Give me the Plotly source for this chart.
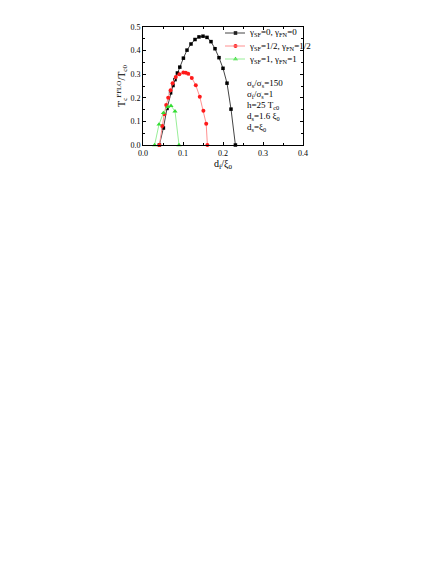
import plotly.graph_objects as go

# Data
black_d = [0.041, 0.051, 0.060, 0.069, 0.075, 0.080, 0.086, 0.092, 0.101, 0.110, 0.120,
           0.130, 0.140, 0.150, 0.160, 0.170, 0.180, 0.190, 0.200, 0.210, 0.220, 0.231]
black_T = [0.0, 0.072, 0.155, 0.221, 0.252, 0.277, 0.305, 0.330, 0.368, 0.402, 0.428,
           0.447, 0.458, 0.461, 0.456, 0.438, 0.408, 0.370, 0.325, 0.262, 0.152, 0.0]

red_d = [0.041, 0.048, 0.053, 0.058, 0.063, 0.069, 0.074, 0.082, 0.091, 0.101, 0.107,
         0.113, 0.122, 0.132, 0.142, 0.151, 0.158, 0.161]
red_T = [0.0, 0.080, 0.130, 0.170, 0.200, 0.232, 0.262, 0.288, 0.300, 0.307, 0.306,
         0.302, 0.284, 0.253, 0.204, 0.145, 0.090, 0.0]

green_d = [0.029, 0.040, 0.051, 0.062, 0.070, 0.080, 0.090]
green_T = [0.0, 0.087, 0.136, 0.162, 0.166, 0.143, 0.0]

x_ticks = [0.0, 0.1, 0.2, 0.3, 0.4]
y_ticks = [0.0, 0.1, 0.2, 0.3, 0.4, 0.5]

names = ["γ<sub>SF</sub>=0, γ<sub>FN</sub>=0",
         "γ<sub>SF</sub>=1/2, γ<sub>FN</sub>=1/2",
         "γ<sub>SF</sub>=1, γ<sub>FN</sub>=1"]

params = ["σ<sub>s</sub>/σ<sub>s</sub>=150",
          "σ<sub>f</sub>/σ<sub>s</sub>=1",
          "h=25 T<sub>c0</sub>",
          "d<sub>s</sub>=1.6 ξ<sub>0</sub>",
          "d<sub>s</sub>=ξ<sub>0</sub>"]

FONT = "Liberation Serif, Times New Roman, serif"

# page geometry (screen pixels); page body has an 8px margin
OFF = 8
L, R, T, B = 143 - OFF, 303 - OFF, 27 - OFF, 145 - OFF
W, H = 440 - 2 * OFF, 570 - 2 * OFF


def px(xs):
    return (xs - OFF - L) / (R - L)


def py(ys):
    return (B - (ys - OFF)) / (B - T)


styles = [
    dict(line=dict(color="#444444", width=1),
         marker=dict(symbol="square", size=3.5, color="black")),
    dict(line=dict(color="#ff9090", width=1),
         marker=dict(symbol="circle", size=4, color="#ff1a1a")),
    dict(line=dict(color="#98ee98", width=1),
         marker=dict(symbol="triangle-up", size=4.5, color="#33dd33")),
]

fig = go.Figure()
for (xd, yd), st, nm in zip([(black_d, black_T), (red_d, red_T), (green_d, green_T)], styles, names):
    fig.add_trace(go.Scatter(x=xd, y=yd, mode="lines+markers", name=nm,
                             showlegend=False, cliponaxis=False, **st))

# manual legend (compact spacing like the reference)
leg_y = [33, 46, 59]
for st, nm, yy in zip(styles, names, leg_y):
    fig.add_shape(type="line", xref="paper", yref="paper",
                  x0=px(225), x1=px(245), y0=py(yy), y1=py(yy),
                  line=dict(color=st["line"]["color"], width=1))
    fig.add_trace(go.Scatter(x=[px(235.5)], y=[py(yy)], xaxis="x2", yaxis="y2",
                             mode="markers", marker=st["marker"], showlegend=False,
                             hoverinfo="skip", cliponaxis=False))
    fig.add_annotation(x=px(247), y=py(yy), xref="paper", yref="paper", text=nm,
                       showarrow=False, xanchor="left", yanchor="middle",
                       font=dict(family=FONT, size=9, color="black"))

for i, t in enumerate(params):
    fig.add_annotation(x=px(245), y=py(83 + i * 11.2), xref="paper", yref="paper", text=t,
                       showarrow=False, xanchor="left", yanchor="middle",
                       font=dict(family=FONT, size=9, color="black"))

axis_common = dict(showline=True, linecolor="black", linewidth=1, mirror="allticks",
                   ticks="inside", ticklen=3, tickcolor="black", tickwidth=1,
                   showgrid=False, zeroline=False,
                   tickfont=dict(family=FONT, size=8, color="black"),
                   minor=dict(ticks="inside", ticklen=2, tickcolor="black", showgrid=False))

fig.update_xaxes(range=[0, 0.4], tickvals=x_ticks, ticktext=[f"{v:.1f}" for v in x_ticks],
                 title=dict(text="d<sub>f</sub>/ξ<sub>0</sub>", font=dict(family=FONT, size=10, color="black"),
                            standoff=2),
                 minor_dtick=0.05, **axis_common)
fig.update_yaxes(range=[0, 0.5], tickvals=y_ticks, ticktext=[f"{v:.1f}" for v in y_ticks],
                 title=dict(text="T<sub>c</sub><sup>FFLO</sup>/T<sub>c0</sub>",
                            font=dict(family=FONT, size=10, color="black"), standoff=2),
                 minor_dtick=0.05, **axis_common)

fig.update_layout(width=W, height=H,
                  margin=dict(l=L, r=W - R, t=T, b=H - B, pad=0),
                  paper_bgcolor="white", plot_bgcolor="white",
                  font=dict(family=FONT, size=9, color="black"),
                  showlegend=False,
                  xaxis2=dict(overlaying="x", range=[0, 1], visible=False, fixedrange=True),
                  yaxis2=dict(overlaying="y", range=[0, 1], visible=False, fixedrange=True))

fig.write_html("out.html")
